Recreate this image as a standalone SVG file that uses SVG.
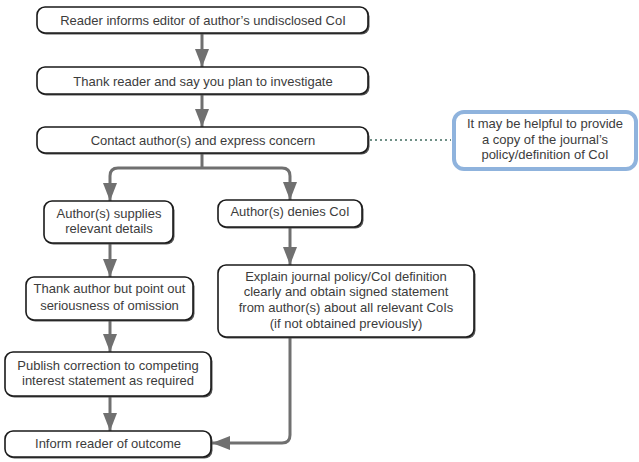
<svg xmlns="http://www.w3.org/2000/svg" width="639" height="462" viewBox="0 0 639 462">
<style>
.box{fill:#fff;stroke:#1a1a1a;stroke-width:1.6}
.sh{fill:#555;stroke:none}
.t{font-family:"Liberation Sans",Arial,sans-serif;font-size:13px;fill:#3c3c3c;text-anchor:middle}
.c{fill:none;stroke:#707070;stroke-width:3}
.note{fill:#fff;stroke:#8fb3dd;stroke-width:4}
.dot{fill:none;stroke:#6f8f86;stroke-width:2;stroke-dasharray:2 3}
</style>
<defs>
<marker id="ah" markerUnits="userSpaceOnUse" markerWidth="18" markerHeight="14" refX="18" refY="7" orient="auto">
<path d="M0,0 L18,7 L0,14 Z" fill="#707070"/>
</marker>
</defs>
<g id="connectors">
<line class="c" x1="202" y1="33" x2="202" y2="67" marker-end="url(#ah)"/>
<line class="c" x1="202" y1="95" x2="202" y2="127" marker-end="url(#ah)"/>
<path class="c" d="M202,153 V168"/>
<path class="c" d="M202,168 H118 Q110,168 110,176 V201" marker-end="url(#ah)"/>
<path class="c" d="M202,168 H282 Q290,168 290,176 V200" marker-end="url(#ah)"/>
<line class="c" x1="110" y1="243" x2="110" y2="277" marker-end="url(#ah)"/>
<line class="c" x1="110" y1="320" x2="110" y2="352" marker-end="url(#ah)"/>
<line class="c" x1="110" y1="396" x2="110" y2="431" marker-end="url(#ah)"/>
<line class="c" x1="290" y1="227" x2="290" y2="265" marker-end="url(#ah)"/>
<path class="c" d="M290,337 V435 Q290,443 282,443 H212" marker-end="url(#ah)"/>
<line class="dot" x1="370" y1="140" x2="451" y2="140"/>
</g>
<g id="n1">
<rect class="sh" x="38.5" y="8.5" width="331" height="26" rx="8"/>
<rect class="box" x="37" y="7" width="331" height="26" rx="8"/>
<text class="t" x="203" y="24.5">Reader informs editor of author’s undisclosed CoI</text>
</g>
<g id="n2">
<rect class="sh" x="38.5" y="68.5" width="331" height="27" rx="8"/>
<rect class="box" x="37" y="67" width="331" height="27" rx="8"/>
<text class="t" x="203" y="85.5">Thank reader and say you plan to investigate</text>
</g>
<g id="n3">
<rect class="sh" x="38.5" y="128.5" width="331" height="26" rx="8"/>
<rect class="box" x="37" y="127" width="331" height="26" rx="8"/>
<text class="t" x="203" y="144.5">Contact author(s) and express concern</text>
</g>
<g id="note">
<rect class="note" x="454" y="112" width="182" height="57" rx="10"/>
<text class="t" x="545" y="127.5">It may be helpful to provide</text>
<text class="t" x="545" y="143.5">a copy of the journal’s</text>
<text class="t" x="545" y="158.5">policy/definition of CoI</text>
</g>
<g id="n4">
<rect class="sh" x="45.5" y="202.5" width="129" height="42" rx="8"/>
<rect class="box" x="44" y="201" width="129" height="42" rx="8"/>
<text class="t" x="109" y="217.5">Author(s) supplies</text>
<text class="t" x="109" y="232.5">relevant details</text>
</g>
<g id="n5">
<rect class="sh" x="219.5" y="201.5" width="144" height="27" rx="8"/>
<rect class="box" x="218" y="200" width="144" height="27" rx="8"/>
<text class="t" x="290" y="215.5">Author(s) denies CoI</text>
</g>
<g id="n6">
<rect class="sh" x="27.5" y="278.5" width="167" height="43" rx="8"/>
<rect class="box" x="26" y="277" width="167" height="43" rx="8"/>
<text class="t" x="109.5" y="292.5">Thank author but point out</text>
<text class="t" x="109.5" y="309.5">seriousness of omission</text>
</g>
<g id="n7">
<rect class="sh" x="219.5" y="266.5" width="256" height="72" rx="8"/>
<rect class="box" x="218" y="265" width="256" height="72" rx="8"/>
<text class="t" x="346" y="281">Explain journal policy/CoI definition</text>
<text class="t" x="346" y="296">clearly and obtain signed statement</text>
<text class="t" x="346" y="312">from author(s) about all relevant CoIs</text>
<text class="t" x="346" y="328">(if not obtained previously)</text>
</g>
<g id="n8">
<rect class="sh" x="6.5" y="353.5" width="206" height="44" rx="8"/>
<rect class="box" x="5" y="352" width="206" height="44" rx="8"/>
<text class="t" x="108" y="369.5">Publish correction to competing</text>
<text class="t" x="108" y="384.5">interest statement as required</text>
</g>
<g id="n9">
<rect class="sh" x="6.5" y="432.5" width="206" height="26" rx="8"/>
<rect class="box" x="5" y="431" width="206" height="26" rx="8"/>
<text class="t" x="108" y="447.5">Inform reader of outcome</text>
</g>
</svg>
